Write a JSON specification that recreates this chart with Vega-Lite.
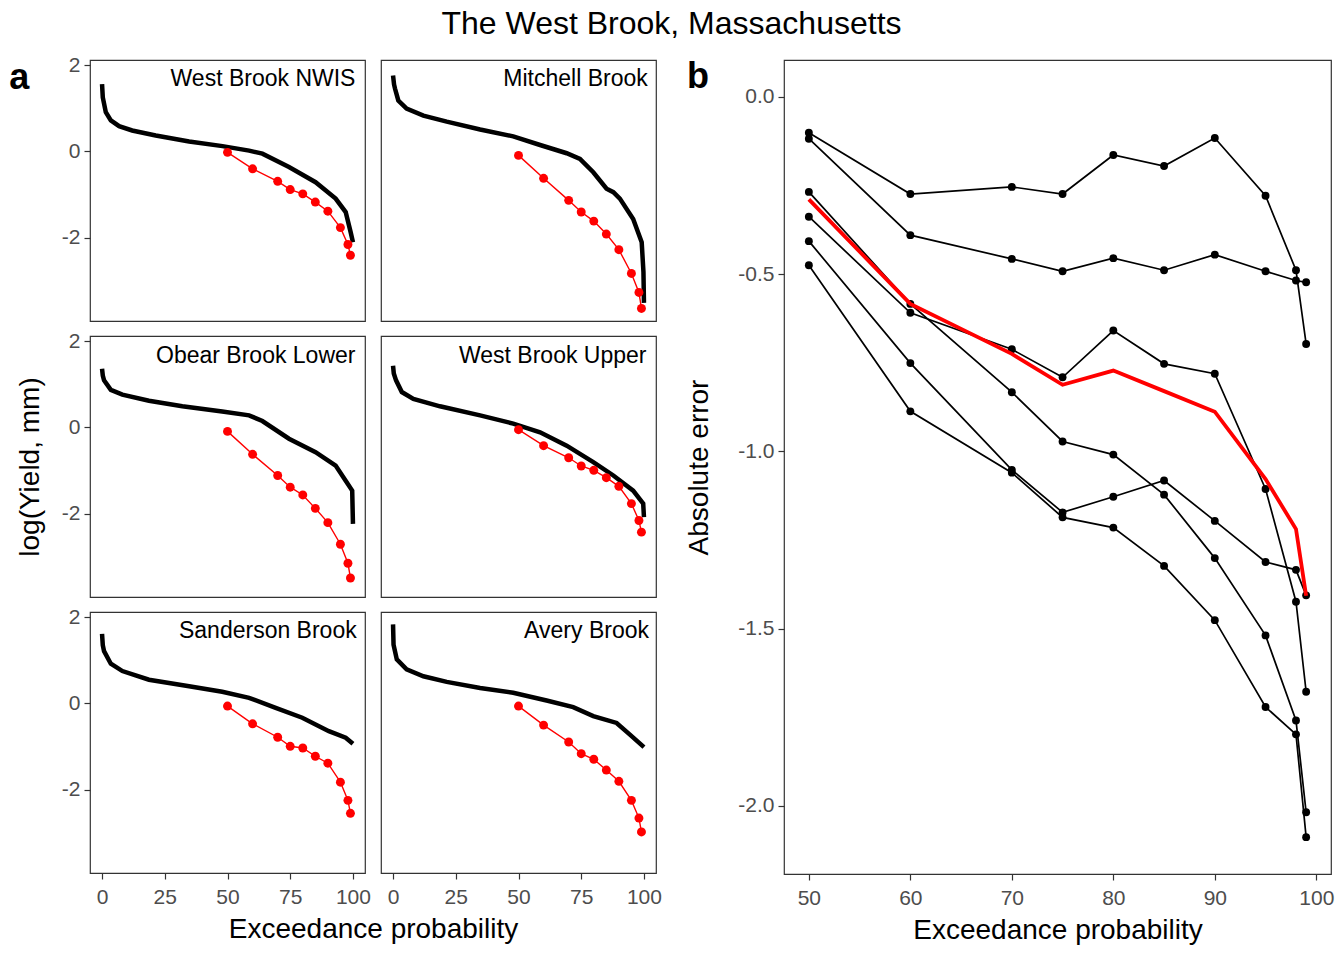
{
  "$schema": "https://vega.github.io/schema/vega-lite/v6.json",
  "padding": {"left": 8, "top": 8, "right": 10, "bottom": 8},
  "background": "white",
  "title": {"text": "The West Brook, Massachusetts", "fontSize": 32, "fontWeight": "normal", "anchor": "middle", "color": "black", "offset": 12},
  "config": {
    "font": "Liberation Sans",
    "view": {"stroke": "#333333", "strokeWidth": 1.2},
    "axis": {"grid": false, "domain": false, "tickColor": "#333333", "tickSize": 6, "tickWidth": 1.2, "labelColor": "#4d4d4d", "labelFontSize": 21, "titleFontSize": 28, "titleFontWeight": "normal", "titleColor": "black", "labelPadding": 4, "titlePadding": 8},
    "axisX": {"labelPadding": 7}
  },
  "datasets": {
    "fdc": [
      {"site": "West Brook NWIS", "p": 0, "y": 1.56}, {"site": "West Brook NWIS", "p": 0.3, "y": 1.25}, {"site": "West Brook NWIS", "p": 1.5, "y": 0.91}, {"site": "West Brook NWIS", "p": 3.5, "y": 0.72}, {"site": "West Brook NWIS", "p": 6.8, "y": 0.585}, {"site": "West Brook NWIS", "p": 12, "y": 0.486}, {"site": "West Brook NWIS", "p": 21.4, "y": 0.37}, {"site": "West Brook NWIS", "p": 34.7, "y": 0.23}, {"site": "West Brook NWIS", "p": 48, "y": 0.124}, {"site": "West Brook NWIS", "p": 58.6, "y": 0.02}, {"site": "West Brook NWIS", "p": 63.9, "y": -0.05}, {"site": "West Brook NWIS", "p": 74.5, "y": -0.36}, {"site": "West Brook NWIS", "p": 85.1, "y": -0.71}, {"site": "West Brook NWIS", "p": 93.1, "y": -1.09}, {"site": "West Brook NWIS", "p": 97.1, "y": -1.4}, {"site": "West Brook NWIS", "p": 99.1, "y": -1.87}, {"site": "West Brook NWIS", "p": 100, "y": -2.1},
      {"site": "Mitchell Brook", "p": 0, "y": 1.76}, {"site": "Mitchell Brook", "p": 0.4, "y": 1.55}, {"site": "Mitchell Brook", "p": 0.8, "y": 1.45}, {"site": "Mitchell Brook", "p": 2.1, "y": 1.18}, {"site": "Mitchell Brook", "p": 5.4, "y": 0.99}, {"site": "Mitchell Brook", "p": 12.1, "y": 0.83}, {"site": "Mitchell Brook", "p": 21.4, "y": 0.69}, {"site": "Mitchell Brook", "p": 34.7, "y": 0.51}, {"site": "Mitchell Brook", "p": 47.9, "y": 0.35}, {"site": "Mitchell Brook", "p": 58.6, "y": 0.15}, {"site": "Mitchell Brook", "p": 69.2, "y": -0.04}, {"site": "Mitchell Brook", "p": 74.5, "y": -0.17}, {"site": "Mitchell Brook", "p": 79.8, "y": -0.48}, {"site": "Mitchell Brook", "p": 85.1, "y": -0.86}, {"site": "Mitchell Brook", "p": 87.8, "y": -0.94}, {"site": "Mitchell Brook", "p": 90.4, "y": -1.09}, {"site": "Mitchell Brook", "p": 95.7, "y": -1.56}, {"site": "Mitchell Brook", "p": 99.1, "y": -2.1}, {"site": "Mitchell Brook", "p": 99.8, "y": -2.79}, {"site": "Mitchell Brook", "p": 100, "y": -3.5},
      {"site": "Obear Brook Lower", "p": 0, "y": 1.36}, {"site": "Obear Brook Lower", "p": 0.3, "y": 1.2}, {"site": "Obear Brook Lower", "p": 0.8, "y": 1.09}, {"site": "Obear Brook Lower", "p": 3.5, "y": 0.87}, {"site": "Obear Brook Lower", "p": 8.1, "y": 0.76}, {"site": "Obear Brook Lower", "p": 18.7, "y": 0.62}, {"site": "Obear Brook Lower", "p": 32, "y": 0.49}, {"site": "Obear Brook Lower", "p": 47.9, "y": 0.37}, {"site": "Obear Brook Lower", "p": 58.6, "y": 0.28}, {"site": "Obear Brook Lower", "p": 63.9, "y": 0.15}, {"site": "Obear Brook Lower", "p": 74.5, "y": -0.26}, {"site": "Obear Brook Lower", "p": 85.1, "y": -0.57}, {"site": "Obear Brook Lower", "p": 93.1, "y": -0.88}, {"site": "Obear Brook Lower", "p": 97.1, "y": -1.23}, {"site": "Obear Brook Lower", "p": 99.7, "y": -1.46}, {"site": "Obear Brook Lower", "p": 100, "y": -2.23},
      {"site": "West Brook Upper", "p": 0, "y": 1.43}, {"site": "West Brook Upper", "p": 0.3, "y": 1.25}, {"site": "West Brook Upper", "p": 1.2, "y": 1.09}, {"site": "West Brook Upper", "p": 3.5, "y": 0.82}, {"site": "West Brook Upper", "p": 8.1, "y": 0.66}, {"site": "West Brook Upper", "p": 18.7, "y": 0.49}, {"site": "West Brook Upper", "p": 34.7, "y": 0.28}, {"site": "West Brook Upper", "p": 47.9, "y": 0.09}, {"site": "West Brook Upper", "p": 58.6, "y": -0.11}, {"site": "West Brook Upper", "p": 69.2, "y": -0.42}, {"site": "West Brook Upper", "p": 79.8, "y": -0.8}, {"site": "West Brook Upper", "p": 87.8, "y": -1.11}, {"site": "West Brook Upper", "p": 95.7, "y": -1.46}, {"site": "West Brook Upper", "p": 99.7, "y": -1.76}, {"site": "West Brook Upper", "p": 100, "y": -2.07},
      {"site": "Sanderson Brook", "p": 0, "y": 1.61}, {"site": "Sanderson Brook", "p": 0.3, "y": 1.35}, {"site": "Sanderson Brook", "p": 0.8, "y": 1.21}, {"site": "Sanderson Brook", "p": 3.5, "y": 0.92}, {"site": "Sanderson Brook", "p": 8.1, "y": 0.75}, {"site": "Sanderson Brook", "p": 18.7, "y": 0.55}, {"site": "Sanderson Brook", "p": 34.7, "y": 0.4}, {"site": "Sanderson Brook", "p": 47.9, "y": 0.27}, {"site": "Sanderson Brook", "p": 58.6, "y": 0.13}, {"site": "Sanderson Brook", "p": 69.2, "y": -0.1}, {"site": "Sanderson Brook", "p": 79.8, "y": -0.33}, {"site": "Sanderson Brook", "p": 90.4, "y": -0.64}, {"site": "Sanderson Brook", "p": 97.1, "y": -0.79}, {"site": "Sanderson Brook", "p": 100, "y": -0.93},
      {"site": "Avery Brook", "p": 0, "y": 1.83}, {"site": "Avery Brook", "p": 0.2, "y": 1.36}, {"site": "Avery Brook", "p": 1.5, "y": 1.02}, {"site": "Avery Brook", "p": 5.4, "y": 0.79}, {"site": "Avery Brook", "p": 12.1, "y": 0.63}, {"site": "Avery Brook", "p": 21.4, "y": 0.5}, {"site": "Avery Brook", "p": 34.7, "y": 0.36}, {"site": "Avery Brook", "p": 47.9, "y": 0.25}, {"site": "Avery Brook", "p": 61.2, "y": 0.07}, {"site": "Avery Brook", "p": 71.8, "y": -0.085}, {"site": "Avery Brook", "p": 79.8, "y": -0.29}, {"site": "Avery Brook", "p": 89.1, "y": -0.45}, {"site": "Avery Brook", "p": 94.4, "y": -0.72}, {"site": "Avery Brook", "p": 100, "y": -1.01}
    ],
    "model": [
      {"site": "West Brook NWIS", "p": 50, "y": -0.02}, {"site": "West Brook NWIS", "p": 60, "y": -0.4}, {"site": "West Brook NWIS", "p": 70, "y": -0.69}, {"site": "West Brook NWIS", "p": 75, "y": -0.88}, {"site": "West Brook NWIS", "p": 80, "y": -0.98}, {"site": "West Brook NWIS", "p": 85, "y": -1.17}, {"site": "West Brook NWIS", "p": 90, "y": -1.38}, {"site": "West Brook NWIS", "p": 95, "y": -1.76}, {"site": "West Brook NWIS", "p": 98, "y": -2.15}, {"site": "West Brook NWIS", "p": 99, "y": -2.4},
      {"site": "Mitchell Brook", "p": 50, "y": -0.09}, {"site": "Mitchell Brook", "p": 60, "y": -0.62}, {"site": "Mitchell Brook", "p": 70, "y": -1.13}, {"site": "Mitchell Brook", "p": 75, "y": -1.4}, {"site": "Mitchell Brook", "p": 80, "y": -1.61}, {"site": "Mitchell Brook", "p": 85, "y": -1.91}, {"site": "Mitchell Brook", "p": 90, "y": -2.27}, {"site": "Mitchell Brook", "p": 95, "y": -2.82}, {"site": "Mitchell Brook", "p": 98, "y": -3.26}, {"site": "Mitchell Brook", "p": 99, "y": -3.63},
      {"site": "Obear Brook Lower", "p": 50, "y": -0.09}, {"site": "Obear Brook Lower", "p": 60, "y": -0.62}, {"site": "Obear Brook Lower", "p": 70, "y": -1.11}, {"site": "Obear Brook Lower", "p": 75, "y": -1.38}, {"site": "Obear Brook Lower", "p": 80, "y": -1.56}, {"site": "Obear Brook Lower", "p": 85, "y": -1.87}, {"site": "Obear Brook Lower", "p": 90, "y": -2.2}, {"site": "Obear Brook Lower", "p": 95, "y": -2.7}, {"site": "Obear Brook Lower", "p": 98, "y": -3.14}, {"site": "Obear Brook Lower", "p": 99, "y": -3.48},
      {"site": "West Brook Upper", "p": 50, "y": -0.05}, {"site": "West Brook Upper", "p": 60, "y": -0.42}, {"site": "West Brook Upper", "p": 70, "y": -0.7}, {"site": "West Brook Upper", "p": 75, "y": -0.89}, {"site": "West Brook Upper", "p": 80, "y": -0.99}, {"site": "West Brook Upper", "p": 85, "y": -1.16}, {"site": "West Brook Upper", "p": 90, "y": -1.36}, {"site": "West Brook Upper", "p": 95, "y": -1.76}, {"site": "West Brook Upper", "p": 98, "y": -2.15}, {"site": "West Brook Upper", "p": 99, "y": -2.42},
      {"site": "Sanderson Brook", "p": 50, "y": -0.06}, {"site": "Sanderson Brook", "p": 60, "y": -0.47}, {"site": "Sanderson Brook", "p": 70, "y": -0.78}, {"site": "Sanderson Brook", "p": 75, "y": -0.99}, {"site": "Sanderson Brook", "p": 80, "y": -1.03}, {"site": "Sanderson Brook", "p": 85, "y": -1.22}, {"site": "Sanderson Brook", "p": 90, "y": -1.38}, {"site": "Sanderson Brook", "p": 95, "y": -1.82}, {"site": "Sanderson Brook", "p": 98, "y": -2.24}, {"site": "Sanderson Brook", "p": 99, "y": -2.54},
      {"site": "Avery Brook", "p": 50, "y": -0.06}, {"site": "Avery Brook", "p": 60, "y": -0.5}, {"site": "Avery Brook", "p": 70, "y": -0.89}, {"site": "Avery Brook", "p": 75, "y": -1.16}, {"site": "Avery Brook", "p": 80, "y": -1.29}, {"site": "Avery Brook", "p": 85, "y": -1.54}, {"site": "Avery Brook", "p": 90, "y": -1.8}, {"site": "Avery Brook", "p": 95, "y": -2.24}, {"site": "Avery Brook", "p": 98, "y": -2.65}, {"site": "Avery Brook", "p": 99, "y": -2.97}
    ],
    "labels": [
      {"site": "West Brook NWIS"}, {"site": "Mitchell Brook"}, {"site": "Obear Brook Lower"}, {"site": "West Brook Upper"}, {"site": "Sanderson Brook"}, {"site": "Avery Brook"}
    ],
    "panels": [{"panel": "a"}, {"panel": "b"}],
    "err": [
      {"line": "A", "p": 50, "err": -0.101}, {"line": "A", "p": 60, "err": -0.274}, {"line": "A", "p": 70, "err": -0.254}, {"line": "A", "p": 75, "err": -0.274}, {"line": "A", "p": 80, "err": -0.164}, {"line": "A", "p": 85, "err": -0.195}, {"line": "A", "p": 90, "err": -0.116}, {"line": "A", "p": 95, "err": -0.279}, {"line": "A", "p": 98, "err": -0.489}, {"line": "A", "p": 99, "err": -0.697},
      {"line": "B", "p": 50, "err": -0.118}, {"line": "B", "p": 60, "err": -0.39}, {"line": "B", "p": 70, "err": -0.457}, {"line": "B", "p": 75, "err": -0.492}, {"line": "B", "p": 80, "err": -0.455}, {"line": "B", "p": 85, "err": -0.489}, {"line": "B", "p": 90, "err": -0.445}, {"line": "B", "p": 95, "err": -0.492}, {"line": "B", "p": 98, "err": -0.518}, {"line": "B", "p": 99, "err": -0.523},
      {"line": "C", "p": 50, "err": -0.268}, {"line": "C", "p": 60, "err": -0.584}, {"line": "C", "p": 70, "err": -0.833}, {"line": "C", "p": 75, "err": -0.972}, {"line": "C", "p": 80, "err": -1.009}, {"line": "C", "p": 85, "err": -1.122}, {"line": "C", "p": 90, "err": -1.301}, {"line": "C", "p": 95, "err": -1.519}, {"line": "C", "p": 98, "err": -1.759}, {"line": "C", "p": 99, "err": -2.018},
      {"line": "D", "p": 50, "err": -0.338}, {"line": "D", "p": 60, "err": -0.609}, {"line": "D", "p": 70, "err": -0.712}, {"line": "D", "p": 75, "err": -0.791}, {"line": "D", "p": 80, "err": -0.659}, {"line": "D", "p": 85, "err": -0.753}, {"line": "D", "p": 90, "err": -0.781}, {"line": "D", "p": 95, "err": -1.106}, {"line": "D", "p": 98, "err": -1.424}, {"line": "D", "p": 99, "err": -1.678},
      {"line": "E", "p": 50, "err": -0.407}, {"line": "E", "p": 60, "err": -0.751}, {"line": "E", "p": 70, "err": -1.052}, {"line": "E", "p": 75, "err": -1.172}, {"line": "E", "p": 80, "err": -1.128}, {"line": "E", "p": 85, "err": -1.082}, {"line": "E", "p": 90, "err": -1.196}, {"line": "E", "p": 95, "err": -1.312}, {"line": "E", "p": 98, "err": -1.334}, {"line": "E", "p": 99, "err": -1.406},
      {"line": "F", "p": 50, "err": -0.475}, {"line": "F", "p": 60, "err": -0.887}, {"line": "F", "p": 70, "err": -1.06}, {"line": "F", "p": 75, "err": -1.186}, {"line": "F", "p": 80, "err": -1.215}, {"line": "F", "p": 85, "err": -1.323}, {"line": "F", "p": 90, "err": -1.476}, {"line": "F", "p": 95, "err": -1.721}, {"line": "F", "p": 98, "err": -1.798}, {"line": "F", "p": 99, "err": -2.088}
    ],
    "mean": [
      {"p": 50, "err": -0.289}, {"p": 60, "err": -0.584}, {"p": 70, "err": -0.725}, {"p": 75, "err": -0.812}, {"p": 80, "err": -0.772}, {"p": 85, "err": -0.83}, {"p": 90, "err": -0.888}, {"p": 95, "err": -1.078}, {"p": 98, "err": -1.219}, {"p": 99, "err": -1.407}
    ]
  },
  "hconcat": [
    {
      "spacing": 7,
      "vconcat": [
        {
          "spacing": 16,
          "bounds": "flush",
          "hconcat": [
            {
              "width": 275, "height": 261,
              "layer": [
                {"data": {"name": "fdc"}, "transform": [{"filter": "datum.site === 'West Brook NWIS'"}], "mark": {"type": "line", "color": "black", "strokeWidth": 4.5}, "encoding": {"x": {"field": "p", "type": "quantitative", "scale": {"domain": [-4.8, 104.8], "nice": false, "zero": false}, "axis": null}, "y": {"field": "y", "type": "quantitative", "scale": {"domain": [-3.92, 2.116], "nice": false, "zero": false}, "axis": {"values": [-2, 0, 2], "title": null, "labelExpr": "datum.value < 0 ? '-' + format(-datum.value, 'd') : format(datum.value, 'd')"}}}},
                {"data": {"name": "model"}, "transform": [{"filter": "datum.site === 'West Brook NWIS'"}], "mark": {"type": "line", "color": "#FF0000", "strokeWidth": 1.4}, "encoding": {"x": {"field": "p", "type": "quantitative"}, "y": {"field": "y", "type": "quantitative"}}},
                {"data": {"name": "model"}, "transform": [{"filter": "datum.site === 'West Brook NWIS'"}], "mark": {"type": "point", "filled": true, "color": "#FF0000", "size": 80, "opacity": 1}, "encoding": {"x": {"field": "p", "type": "quantitative"}, "y": {"field": "y", "type": "quantitative"}}},
                {"data": {"name": "labels"}, "transform": [{"filter": "datum.site === 'West Brook NWIS'"}], "mark": {"type": "text", "align": "right", "baseline": "alphabetic", "fontSize": 23, "color": "black"}, "encoding": {"x": {"datum": 101}, "y": {"datum": 1.52}, "text": {"field": "site"}}},
                {"data": {"name": "panels"}, "transform": [{"filter": "datum.panel === 'a'"}], "mark": {"type": "text", "align": "left", "baseline": "alphabetic", "fontSize": 36, "fontWeight": "bold", "color": "black"}, "encoding": {"x": {"datum": -37}, "y": {"datum": 1.445}, "text": {"field": "panel"}}}
              ]
            },
            {
              "width": 275, "height": 261,
              "layer": [
                {"data": {"name": "fdc"}, "transform": [{"filter": "datum.site === 'Mitchell Brook'"}], "mark": {"type": "line", "color": "black", "strokeWidth": 4.5}, "encoding": {"x": {"field": "p", "type": "quantitative", "scale": {"domain": [-4.8, 104.8], "nice": false, "zero": false}, "axis": null}, "y": {"field": "y", "type": "quantitative", "scale": {"domain": [-3.92, 2.116], "nice": false, "zero": false}, "axis": null}}},
                {"data": {"name": "model"}, "transform": [{"filter": "datum.site === 'Mitchell Brook'"}], "mark": {"type": "line", "color": "#FF0000", "strokeWidth": 1.4}, "encoding": {"x": {"field": "p", "type": "quantitative"}, "y": {"field": "y", "type": "quantitative"}}},
                {"data": {"name": "model"}, "transform": [{"filter": "datum.site === 'Mitchell Brook'"}], "mark": {"type": "point", "filled": true, "color": "#FF0000", "size": 80, "opacity": 1}, "encoding": {"x": {"field": "p", "type": "quantitative"}, "y": {"field": "y", "type": "quantitative"}}},
                {"data": {"name": "labels"}, "transform": [{"filter": "datum.site === 'Mitchell Brook'"}], "mark": {"type": "text", "align": "right", "baseline": "alphabetic", "fontSize": 23, "color": "black"}, "encoding": {"x": {"datum": 101.5}, "y": {"datum": 1.52}, "text": {"field": "site"}}}
              ]
            }
          ]
        },
        {
          "spacing": 16,
          "bounds": "flush",
          "hconcat": [
            {
              "width": 275, "height": 261,
              "layer": [
                {"data": {"name": "fdc"}, "transform": [{"filter": "datum.site === 'Obear Brook Lower'"}], "mark": {"type": "line", "color": "black", "strokeWidth": 4.5}, "encoding": {"x": {"field": "p", "type": "quantitative", "scale": {"domain": [-4.8, 104.8], "nice": false, "zero": false}, "axis": null}, "y": {"field": "y", "type": "quantitative", "scale": {"domain": [-3.92, 2.116], "nice": false, "zero": false}, "axis": {"values": [-2, 0, 2], "title": "log(Yield, mm)", "titlePadding": 17, "labelExpr": "datum.value < 0 ? '-' + format(-datum.value, 'd') : format(datum.value, 'd')"}}}},
                {"data": {"name": "model"}, "transform": [{"filter": "datum.site === 'Obear Brook Lower'"}], "mark": {"type": "line", "color": "#FF0000", "strokeWidth": 1.4}, "encoding": {"x": {"field": "p", "type": "quantitative"}, "y": {"field": "y", "type": "quantitative"}}},
                {"data": {"name": "model"}, "transform": [{"filter": "datum.site === 'Obear Brook Lower'"}], "mark": {"type": "point", "filled": true, "color": "#FF0000", "size": 80, "opacity": 1}, "encoding": {"x": {"field": "p", "type": "quantitative"}, "y": {"field": "y", "type": "quantitative"}}},
                {"data": {"name": "labels"}, "transform": [{"filter": "datum.site === 'Obear Brook Lower'"}], "mark": {"type": "text", "align": "right", "baseline": "alphabetic", "fontSize": 23, "color": "black"}, "encoding": {"x": {"datum": 101}, "y": {"datum": 1.5}, "text": {"field": "site"}}}
              ]
            },
            {
              "width": 275, "height": 261,
              "layer": [
                {"data": {"name": "fdc"}, "transform": [{"filter": "datum.site === 'West Brook Upper'"}], "mark": {"type": "line", "color": "black", "strokeWidth": 4.5}, "encoding": {"x": {"field": "p", "type": "quantitative", "scale": {"domain": [-4.8, 104.8], "nice": false, "zero": false}, "axis": null}, "y": {"field": "y", "type": "quantitative", "scale": {"domain": [-3.92, 2.116], "nice": false, "zero": false}, "axis": null}}},
                {"data": {"name": "model"}, "transform": [{"filter": "datum.site === 'West Brook Upper'"}], "mark": {"type": "line", "color": "#FF0000", "strokeWidth": 1.4}, "encoding": {"x": {"field": "p", "type": "quantitative"}, "y": {"field": "y", "type": "quantitative"}}},
                {"data": {"name": "model"}, "transform": [{"filter": "datum.site === 'West Brook Upper'"}], "mark": {"type": "point", "filled": true, "color": "#FF0000", "size": 80, "opacity": 1}, "encoding": {"x": {"field": "p", "type": "quantitative"}, "y": {"field": "y", "type": "quantitative"}}},
                {"data": {"name": "labels"}, "transform": [{"filter": "datum.site === 'West Brook Upper'"}], "mark": {"type": "text", "align": "right", "baseline": "alphabetic", "fontSize": 23, "color": "black"}, "encoding": {"x": {"datum": 101}, "y": {"datum": 1.5}, "text": {"field": "site"}}}
              ]
            }
          ]
        },
        {
          "spacing": 16,
          "bounds": "flush",
          "hconcat": [
            {
              "width": 275, "height": 261,
              "layer": [
                {"data": {"name": "fdc"}, "transform": [{"filter": "datum.site === 'Sanderson Brook'"}], "mark": {"type": "line", "color": "black", "strokeWidth": 4.5}, "encoding": {"x": {"field": "p", "type": "quantitative", "scale": {"domain": [-4.8, 104.8], "nice": false, "zero": false}, "axis": {"values": [0, 25, 50, 75, 100], "title": "Exceedance probability", "titleX": 283}}, "y": {"field": "y", "type": "quantitative", "scale": {"domain": [-3.92, 2.116], "nice": false, "zero": false}, "axis": {"values": [-2, 0, 2], "title": null, "labelExpr": "datum.value < 0 ? '-' + format(-datum.value, 'd') : format(datum.value, 'd')"}}}},
                {"data": {"name": "model"}, "transform": [{"filter": "datum.site === 'Sanderson Brook'"}], "mark": {"type": "line", "color": "#FF0000", "strokeWidth": 1.4}, "encoding": {"x": {"field": "p", "type": "quantitative"}, "y": {"field": "y", "type": "quantitative"}}},
                {"data": {"name": "model"}, "transform": [{"filter": "datum.site === 'Sanderson Brook'"}], "mark": {"type": "point", "filled": true, "color": "#FF0000", "size": 80, "opacity": 1}, "encoding": {"x": {"field": "p", "type": "quantitative"}, "y": {"field": "y", "type": "quantitative"}}},
                {"data": {"name": "labels"}, "transform": [{"filter": "datum.site === 'Sanderson Brook'"}], "mark": {"type": "text", "align": "right", "baseline": "alphabetic", "fontSize": 23, "color": "black"}, "encoding": {"x": {"datum": 101.5}, "y": {"datum": 1.52}, "text": {"field": "site"}}}
              ]
            },
            {
              "width": 275, "height": 261,
              "layer": [
                {"data": {"name": "fdc"}, "transform": [{"filter": "datum.site === 'Avery Brook'"}], "mark": {"type": "line", "color": "black", "strokeWidth": 4.5}, "encoding": {"x": {"field": "p", "type": "quantitative", "scale": {"domain": [-4.8, 104.8], "nice": false, "zero": false}, "axis": {"values": [0, 25, 50, 75, 100], "title": null}}, "y": {"field": "y", "type": "quantitative", "scale": {"domain": [-3.92, 2.116], "nice": false, "zero": false}, "axis": null}}},
                {"data": {"name": "model"}, "transform": [{"filter": "datum.site === 'Avery Brook'"}], "mark": {"type": "line", "color": "#FF0000", "strokeWidth": 1.4}, "encoding": {"x": {"field": "p", "type": "quantitative"}, "y": {"field": "y", "type": "quantitative"}}},
                {"data": {"name": "model"}, "transform": [{"filter": "datum.site === 'Avery Brook'"}], "mark": {"type": "point", "filled": true, "color": "#FF0000", "size": 80, "opacity": 1}, "encoding": {"x": {"field": "p", "type": "quantitative"}, "y": {"field": "y", "type": "quantitative"}}},
                {"data": {"name": "labels"}, "transform": [{"filter": "datum.site === 'Avery Brook'"}], "mark": {"type": "text", "align": "right", "baseline": "alphabetic", "fontSize": 23, "color": "black"}, "encoding": {"x": {"datum": 102}, "y": {"datum": 1.52}, "text": {"field": "site"}}}
              ]
            }
          ]
        }
      ]
    },
    {
      "width": 547, "height": 814,
      "layer": [
        {"mark": {"type": "rule", "strokeDash": [9, 5], "strokeWidth": 1.3, "color": "black"}, "encoding": {"y": {"datum": 0, "type": "quantitative", "scale": {"domain": [-2.192, 0.104], "nice": false, "zero": false}}}},
        {"data": {"name": "err"}, "mark": {"type": "line", "color": "black"}, "encoding": {"x": {"field": "p", "type": "quantitative", "scale": {"domain": [47.55, 101.45], "nice": false, "zero": false}, "axis": {"values": [50, 60, 70, 80, 90, 100], "title": "Exceedance probability"}}, "y": {"field": "err", "type": "quantitative", "axis": {"values": [-2, -1.5, -1, -0.5, 0], "title": "Absolute error", "titlePadding": 24, "labelExpr": "(datum.value < 0 ? '-' : '') + format(abs(datum.value), '.1f')"}}, "strokeWidth": {"field": "line", "type": "nominal", "scale": {"domain": ["A", "B", "C", "D", "E", "F"], "range": [1.7, 1.7, 1.6, 1.7, 1.7, 1.0]}, "legend": null}}},
        {"data": {"name": "err"}, "mark": {"type": "point", "filled": true, "color": "black", "size": 62, "opacity": 1}, "encoding": {"x": {"field": "p", "type": "quantitative"}, "y": {"field": "err", "type": "quantitative"}}},
        {"data": {"name": "mean"}, "mark": {"type": "line", "color": "#FF0000", "strokeWidth": 3.8}, "encoding": {"x": {"field": "p", "type": "quantitative"}, "y": {"field": "err", "type": "quantitative"}}},
        {"data": {"name": "panels"}, "transform": [{"filter": "datum.panel === 'b'"}], "mark": {"type": "text", "align": "left", "baseline": "alphabetic", "fontSize": 36, "fontWeight": "bold", "color": "black"}, "encoding": {"x": {"datum": 38}, "y": {"datum": 0.025}, "text": {"field": "panel"}}}
      ]
    }
  ],
  "spacing": 22
}
